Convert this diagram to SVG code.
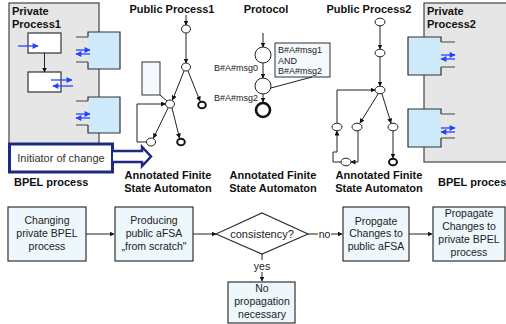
<svg xmlns="http://www.w3.org/2000/svg" width="506" height="324" viewBox="0 0 506 324">
<defs>
  <marker id="ah" viewBox="0 0 10 10" refX="9" refY="5" markerWidth="5" markerHeight="5" orient="auto" markerUnits="userSpaceOnUse">
    <path d="M0,0 L10,5 L0,10 z" fill="#111"/>
  </marker>
  <marker id="bh" viewBox="0 0 10 10" refX="9" refY="5" markerWidth="7" markerHeight="6" orient="auto" markerUnits="userSpaceOnUse">
    <path d="M0,0 L10,5 L0,10 z" fill="#2244ff"/>
  </marker>
  <style>
    .title{font-family:"Liberation Sans",Arial,sans-serif;font-size:11px;font-weight:bold;fill:#111}
    .lbl{font-family:"Liberation Sans",Arial,sans-serif;font-size:10.5px;fill:#222}
    .small{font-family:"Liberation Sans",Arial,sans-serif;font-size:9px;fill:#222}
    .gray{fill:#e6e6e6;stroke:#444;stroke-width:1.2}
    .port{fill:#cde9fa;stroke:#333;stroke-width:1.2}
    .stub{stroke:#444;stroke-width:1.2;fill:none}
    .act{fill:#fff;stroke:#333;stroke-width:1.2}
    .st{fill:#fff;stroke:#222;stroke-width:1}
    .end{fill:#fff;stroke:#111;stroke-width:2}
    .edge{stroke:#222;stroke-width:1;fill:none;marker-end:url(#ah)}
    .line{stroke:#222;stroke-width:1;fill:none}
    .msg{stroke:#2244ff;stroke-width:1.3;fill:none;marker-end:url(#bh)}
    .box{fill:#eef7fc;stroke:#333;stroke-width:1.2}
    .note{fill:#f3f9fd;stroke:#333;stroke-width:1}
  </style>
</defs>

<!-- private process 1 -->
<g id="private1">
  <rect class="gray" x="9" y="3" width="90" height="152"/>
  <text class="title" x="12" y="15">Private</text>
  <text class="title" x="12" y="28">Process1</text>
  <rect class="act" x="28" y="33" width="33" height="20"/>
  <rect class="act" x="28" y="72" width="33" height="20"/>
  <line class="edge" x1="44.5" y1="53" x2="44.5" y2="72"/>
  <line class="msg" x1="18" y1="46" x2="38" y2="46"/>
  <line class="msg" x1="51" y1="80" x2="72" y2="80"/>
  <line class="msg" x1="73" y1="86" x2="53" y2="86"/>
  <path class="port" d="M88,37 V32 H120 V69 H88 V62"/>
  <path class="stub" d="M76,37 H88 M76,62 H88"/>
  <line class="msg" x1="76" y1="50" x2="90" y2="50"/>
  <line class="msg" x1="90" y1="54" x2="76" y2="54"/>
  <path class="port" d="M88,101 V97 H120 V133 H88 V125"/>
  <path class="stub" d="M76,101 H88 M76,125 H88"/>
  <line class="msg" x1="76" y1="114" x2="90" y2="114"/>
  <line class="msg" x1="90" y1="118" x2="76" y2="118"/>
</g>

<g id="initiator">
  <rect x="9.5" y="144" width="103" height="28" fill="#fff" stroke="#1c2a80" stroke-width="3"/>
  <text class="lbl" x="61" y="162" text-anchor="middle" style="font-size:11px;fill:#333">Initiator of change</text>
  <path d="M113,151 H142 V147 L151,156.5 L142,166 V162 H113" fill="#fff" stroke="#1c2a80" stroke-width="2.5" stroke-linejoin="miter"/>
</g>
<text class="title" x="14" y="186">BPEL process</text>

<!-- public process 1 -->
<g id="public1">
  <text class="title" x="172" y="13" text-anchor="middle">Public Process1</text>
  <rect class="note" x="142" y="62" width="18" height="33"/>
  <line class="line" x1="160" y1="95" x2="167" y2="101"/>
  <ellipse class="st" cx="186" cy="29" rx="4.5" ry="4"/>
  <ellipse class="st" cx="186" cy="67" rx="4.5" ry="4"/>
  <ellipse class="st" cx="170" cy="104" rx="4.5" ry="4"/>
  <ellipse class="st" cx="151" cy="142" rx="4.5" ry="4"/>
  <ellipse class="end" cx="202" cy="105" rx="3.8" ry="3.3"/>
  <ellipse class="end" cx="181" cy="142" rx="3.8" ry="3.3"/>
  <line class="edge" x1="186" y1="15" x2="186" y2="25"/>
  <line class="edge" x1="186" y1="33" x2="186" y2="63"/>
  <line class="edge" x1="184" y1="71" x2="172.5" y2="100"/>
  <line class="edge" x1="188" y1="71" x2="200" y2="101"/>
  <line class="edge" x1="168" y1="108" x2="153.5" y2="138"/>
  <line class="edge" x1="172" y1="108" x2="179.5" y2="138"/>
  <path class="edge" d="M146.5,142 H137 V104 H165.5"/>
</g>
<g id="aut1-label">
  <text class="title" x="168" y="179" text-anchor="middle">Annotated Finite</text>
  <text class="title" x="168" y="192" text-anchor="middle">State Automaton</text>
</g>

<!-- protocol -->
<g id="protocol">
  <text class="title" x="266" y="13" text-anchor="middle">Protocol</text>
  <circle class="st" cx="263" cy="55" r="8"/>
  <circle class="st" cx="263" cy="86" r="8"/>
  <circle cx="263" cy="110" r="7" fill="#fff" stroke="#111" stroke-width="2.6"/>
  <line class="edge" x1="263" y1="33" x2="263" y2="47"/>
  <line class="edge" x1="263" y1="63" x2="263" y2="78"/>
  <line class="edge" x1="263" y1="94" x2="263" y2="102"/>
  <text class="small" x="258" y="71" text-anchor="end">B#A#msg0</text>
  <text class="small" x="258" y="101" text-anchor="end">B#A#msg2</text>
  <rect class="note" x="275" y="43" width="55" height="34"/>
  <line class="line" x1="271" y1="88" x2="312" y2="77"/>
  <text class="small" x="278" y="53">B#A#msg1</text>
  <text class="small" x="278" y="63.5">AND</text>
  <text class="small" x="278" y="74">B#A#msg2</text>
</g>
<g id="aut2-label">
  <text class="title" x="273" y="179" text-anchor="middle">Annotated Finite</text>
  <text class="title" x="273" y="192" text-anchor="middle">State Automaton</text>
</g>

<!-- public process 2 -->
<g id="public2">
  <text class="title" x="369" y="13" text-anchor="middle">Public Process2</text>
  <ellipse class="st" cx="380" cy="22" rx="5" ry="3.8"/>
  <ellipse class="st" cx="380" cy="53" rx="5" ry="3.8"/>
  <ellipse class="st" cx="380" cy="90" rx="5" ry="3.8"/>
  <ellipse class="st" cx="337" cy="127" rx="5" ry="3.8"/>
  <ellipse class="st" cx="357" cy="127" rx="5" ry="3.8"/>
  <ellipse class="st" cx="393" cy="127" rx="5" ry="3.8"/>
  <ellipse class="st" cx="346" cy="162" rx="5" ry="3.8"/>
  <ellipse class="end" cx="393" cy="162" rx="4" ry="3.3"/>
  <line class="edge" x1="380" y1="26" x2="380" y2="49"/>
  <line class="edge" x1="380" y1="57" x2="380" y2="86"/>
  <line class="edge" x1="378" y1="94" x2="360" y2="123"/>
  <line class="edge" x1="382" y1="94" x2="391" y2="123"/>
  <line class="edge" x1="393" y1="131" x2="393" y2="158"/>
  <path class="edge" d="M337,123 V90 H375"/>
  <path class="edge" d="M358,131 V162 H351"/>
  <path class="edge" d="M341,162 H333 V152 H337 V131"/>
</g>
<g id="aut3-label">
  <text class="title" x="379" y="179" text-anchor="middle">Annotated Finite</text>
  <text class="title" x="379" y="192" text-anchor="middle">State Automaton</text>
</g>

<!-- private process 2 -->
<g id="private2">
  <rect class="gray" x="424" y="3" width="90" height="159"/>
  <text class="title" x="427" y="15">Private</text>
  <text class="title" x="427" y="28">Process2</text>
  <path class="port" d="M441,42 V37 H408 V75 H441 V67"/>
  <path class="stub" d="M441,42 H455 M441,67 H455"/>
  <line class="msg" x1="441" y1="55" x2="455" y2="55"/>
  <line class="msg" x1="455" y1="59" x2="441" y2="59"/>
  <path class="port" d="M441,114 V109 H408 V147 H441 V138"/>
  <path class="stub" d="M441,114 H455 M441,138 H455"/>
  <line class="msg" x1="441" y1="128" x2="455" y2="128"/>
  <line class="msg" x1="455" y1="132" x2="441" y2="132"/>
</g>
<text class="title" x="438" y="186">BPEL process</text>

<!-- flow of change propagation -->
<g id="step-change">
  <rect class="box" x="8" y="207" width="78" height="54"/>
  <text class="lbl" x="47" y="224" text-anchor="middle">Changing</text>
  <text class="lbl" x="47" y="237" text-anchor="middle">private BPEL</text>
  <text class="lbl" x="47" y="250" text-anchor="middle">process</text>
</g>
<g id="step-produce">
  <rect class="box" x="115" y="207" width="78" height="54"/>
  <text class="lbl" x="154" y="224" text-anchor="middle">Producing</text>
  <text class="lbl" x="154" y="237" text-anchor="middle">public aFSA</text>
  <text class="lbl" x="154" y="250" text-anchor="middle">„from scratch"</text>
</g>
<g id="decision">
  <polygon points="216,234 262,213 308,234 262,254" fill="#fff" stroke="#333" stroke-width="1.2"/>
  <text class="lbl" x="262" y="238" text-anchor="middle" style="font-size:11px">consistency?</text>
</g>
<g id="step-public">
  <rect class="box" x="343" y="207" width="66" height="54"/>
  <text class="lbl" x="376" y="225" text-anchor="middle">Propgate</text>
  <text class="lbl" x="376" y="237" text-anchor="middle">Changes to</text>
  <text class="lbl" x="376" y="250" text-anchor="middle">public aFSA</text>
</g>
<g id="step-private">
  <rect class="box" x="433" y="207" width="72" height="54"/>
  <text class="lbl" x="469" y="217" text-anchor="middle">Propagate</text>
  <text class="lbl" x="469" y="230" text-anchor="middle">Changes to</text>
  <text class="lbl" x="469" y="243" text-anchor="middle">private BPEL</text>
  <text class="lbl" x="469" y="256" text-anchor="middle">process</text>
</g>
<g id="step-none">
  <rect class="box" x="228" y="282" width="67" height="41"/>
  <text class="lbl" x="262" y="292" text-anchor="middle">No</text>
  <text class="lbl" x="262" y="305" text-anchor="middle">propagation</text>
  <text class="lbl" x="262" y="318" text-anchor="middle">necessary</text>
</g>

<g id="connectors">
  <line class="edge" x1="86" y1="234" x2="114" y2="234"/>
  <line class="edge" x1="193" y1="234" x2="216" y2="234"/>
  <line class="line" x1="308" y1="234" x2="318" y2="234"/>
  <line class="edge" x1="331" y1="234" x2="342" y2="234"/>
  <text class="lbl" x="324.5" y="237.5" text-anchor="middle">no</text>
  <line class="edge" x1="409" y1="234" x2="432" y2="234"/>
  <line class="line" x1="262" y1="254" x2="262" y2="260"/>
  <line class="edge" x1="262" y1="272" x2="262" y2="281"/>
  <text class="lbl" x="262" y="270" text-anchor="middle">yes</text>
</g>
</svg>
